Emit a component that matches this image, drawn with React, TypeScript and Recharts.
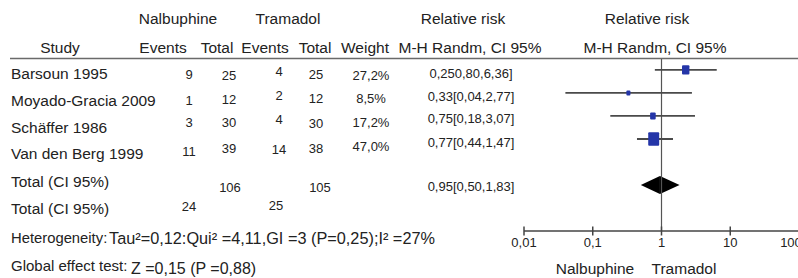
import { ComposedChart, XAxis, YAxis, Scatter, ReferenceLine, ReferenceArea } from "recharts";

// table data
const studies = ["Barsoun 1995", "Moyado-Gracia 2009", "Schäffer 1986", "Van den Berg 1999"];
const nalEvents = ["9", "1", "3", "11"];
const nalTotal = ["25", "12", "30", "39"];
const tramEvents = ["4", "2", "4", "14"];
const tramTotal = ["25", "12", "30", "38"];
const weightLabels = ["27,2%", "8,5%", "17,2%", "47,0%"];
const rrLabels = ["0,250,80,6,36]", "0,33[0,04,2,77]", "0,75[0,18,3,07]", "0,77[0,44,1,47]"];

// forest values
const rr = [2.25, 0.33, 0.75, 0.77];
const ciLow = [0.8, 0.04, 0.18, 0.44];
const ciHigh = [6.36, 2.77, 3.07, 1.47];
const weights = [27.2, 8.5, 17.2, 47.0];
const pooledRR = 0.95;
const pooledLow = 0.5;
const pooledHigh = 1.83;
const pooledRow = 5;

const xTicks = [0.01, 0.1, 1, 10, 100];
const xTickLabels = ["0,01", "0,1", "1", "10", "100"];

const FONT = '"Liberation Sans", Arial, Helvetica, sans-serif';
const TXT = "#222";

// layout (pixels) for the table columns
const nameY = [73, 100, 127, 153];
const cols = [
  { vals: nalEvents, x: 189, y: [74, 100, 122, 151] },
  { vals: nalTotal, x: 229, y: [75, 99, 122, 148] },
  { vals: tramEvents, x: 279, y: [71, 95, 119, 149] },
  { vals: tramTotal, x: 316, y: [74, 98, 123, 148] },
  { vals: weightLabels, x: 371, y: [75, 98, 122, 146] },
  { vals: rrLabels, x: 471, y: [73, 96, 118, 142] },
];

function AxisTick(props: any) {
  const { x, y, payload } = props;
  const idx = xTicks.indexOf(payload.value);
  const label = idx >= 0 ? xTickLabels[idx] : String(payload.value);
  const shift = payload.value === 100 ? -8 : 0;
  return (
    <g>
      <line x1={x} x2={x} y1={y - 4.5} y2={y + 4.5} stroke="#444" strokeWidth={1.5} />
      <text x={x + shift} y={y + 11} textAnchor="middle" dominantBaseline="central" fontSize={13} fill={TXT} fontFamily={FONT}>
        {label}
      </text>
    </g>
  );
}

function WeightSquare(props: any) {
  const { cx, cy, payload } = props;
  const w = 0.18 * payload.weight + 2.5;
  const h = w * 1.25;
  return <rect x={cx - w / 2} y={cy - h / 2} width={w} height={h} fill="#2435a8" rx={1} />;
}

function HalfDiamond(props: any) {
  const { x, y, width, height, side } = props;
  const pts =
    side === "left"
      ? `${x},${y + height / 2} ${x + width},${y} ${x + width},${y + height}`
      : `${x},${y} ${x + width},${y + height / 2} ${x},${y + height}`;
  return <polygon points={pts} fill="#000" />;
}

export default function App() {
  const points = studies.map((name, i) => ({ name, rr: rr[i], row: i, weight: weights[i] }));

  return (
    <div
      style={{
        position: "absolute",
        left: 0,
        top: 0,
        width: 798,
        height: 278,
        overflow: "hidden",
        background: "#fff",
        fontFamily: FONT,
      }}
    >
      <ComposedChart width={820} height={278} margin={{ top: 58, right: 21, bottom: 0, left: 524 }}>
        <XAxis
          type="number"
          dataKey="rr"
          scale="log"
          domain={[0.01, 100]}
          ticks={xTicks}
          allowDataOverflow
          height={47}
          tickSize={0}
          tickMargin={0}
          tickLine={false}
          axisLine={{ stroke: "#444", strokeWidth: 1.5 }}
          tick={<AxisTick />}
        />
        <YAxis type="number" dataKey="row" domain={[-0.52, 7]} reversed hide allowDataOverflow />
        <ReferenceLine x={1} stroke="#555" strokeWidth={1.2} />
        {studies.map((s, i) => (
          <ReferenceLine
            key={s}
            segment={[
              { x: ciLow[i], y: i },
              { x: ciHigh[i], y: i },
            ]}
            stroke="#4a4a4a"
            strokeWidth={1.8}
          />
        ))}
        <Scatter data={points} isAnimationActive={false} shape={<WeightSquare />} />
        <ReferenceArea
          x1={pooledLow}
          x2={pooledRR}
          y1={pooledRow - 0.39}
          y2={pooledRow + 0.39}
          shape={(p: any) => <HalfDiamond {...p} side="left" />}
        />
        <ReferenceArea
          x1={pooledRR}
          x2={pooledHigh}
          y1={pooledRow - 0.39}
          y2={pooledRow + 0.39}
          shape={(p: any) => <HalfDiamond {...p} side="right" />}
        />
      </ComposedChart>

      <svg
        width={798}
        height={278}
        style={{ position: "absolute", left: 0, top: 0, pointerEvents: "none" }}
        fontFamily={FONT}
        fill={TXT}
      >
        {/* header */}
        <g fontSize={15.5} textAnchor="middle" dominantBaseline="central">
          <text x={178} y={18}>Nalbuphine</text>
          <text x={288} y={18}>Tramadol</text>
          <text x={463} y={18}>Relative risk</text>
          <text x={647} y={18}>Relative risk</text>
          <text x={60} y={47}>Study</text>
          <text x={163} y={47}>Events</text>
          <text x={217} y={47}>Total</text>
          <text x={265} y={47}>Events</text>
          <text x={315} y={47}>Total</text>
          <text x={365} y={47}>Weight</text>
          <text x={470} y={47}>M-H Randm, CI 95%</text>
          <text x={655} y={47}>M-H Randm, CI 95%</text>
        </g>
        <line x1={10} x2={798} y1={58.5} y2={58.5} stroke="#6a6a6a" strokeWidth={1.6} />

        {/* study rows */}
        <g fontSize={15.5} dominantBaseline="central">
          {studies.map((s, i) => (
            <text key={s} x={11} y={nameY[i]}>{s}</text>
          ))}
          <text x={11} y={181}>Total (CI 95%)</text>
          <text x={11} y={208}>Total (CI 95%)</text>
        </g>
        <g fontSize={13} textAnchor="middle" dominantBaseline="central">
          {cols.map((c, ci) =>
            c.vals.map((v, i) => (
              <text key={`${ci}-${i}`} x={c.x} y={c.y[i]}>{v}</text>
            ))
          )}
          <text x={230} y={187}>106</text>
          <text x={320} y={187}>105</text>
          <text x={471} y={186}>0,95[0,50,1,83]</text>
          <text x={189} y={206}>24</text>
          <text x={276} y={205}>25</text>
        </g>

        {/* footer */}
        <g dominantBaseline="central">
          <text x={11} y={238} fontSize={14.8}>
            Heterogeneity:<tspan x={109} fontSize={16.3}>Tau²=0,12:Qui² =4,11,GI =3 (P=0,25);I² =27%</tspan>
          </text>
          <text x={11} y={265} fontSize={15}>
            Global effect test:<tspan x={131} dy={3} fontSize={16}>Z =0,15 (P =0,88)</tspan>
          </text>
        </g>
        <g fontSize={15.5} textAnchor="middle" dominantBaseline="central">
          <text x={595} y={268}>Nalbuphine</text>
          <text x={684} y={268}>Tramadol</text>
        </g>
      </svg>
    </div>
  );
}
